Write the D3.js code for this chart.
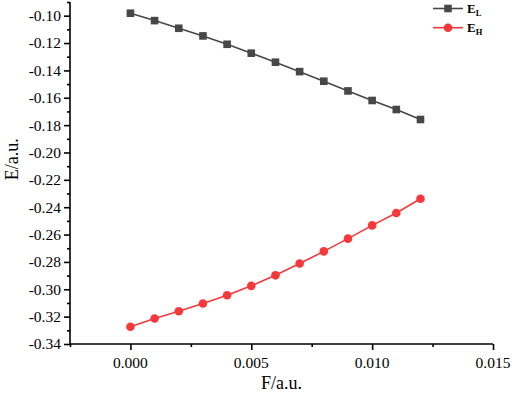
<!DOCTYPE html>
<html>
<head>
<meta charset="utf-8">
<script src="https://cdn.jsdelivr.net/npm/d3@7"></script>
<style>
  body { margin: 0; background: #fff; }
  svg { display: block; font-family: "Liberation Serif", "Times New Roman", serif; }
</style>
</head>
<body>
<div id="chart"></div>
<script>
// ---- Data ----
const fieldValues = [0, 0.001, 0.002, 0.003, 0.004, 0.005, 0.006, 0.007, 0.008, 0.009, 0.010, 0.011, 0.012];
const eL = [-0.0982, -0.1036, -0.1092, -0.1148, -0.1209, -0.1274, -0.1340, -0.1409, -0.1479, -0.1550, -0.1620, -0.1686, -0.1759];
const eH = [-0.3274, -0.3214, -0.3161, -0.3104, -0.3044, -0.2975, -0.2898, -0.2812, -0.2723, -0.2630, -0.2533, -0.2442, -0.2338];
const xTicks = [0, 0.005, 0.010, 0.015];
const yTicks = [-0.10, -0.12, -0.14, -0.16, -0.18, -0.20, -0.22, -0.24, -0.26, -0.28, -0.30, -0.32, -0.34];

const W = 512, H = 398;
const GRAY = "#474747", RED = "#f5383c";

const svg = d3.select("#chart").append("svg")
  .attr("width", W).attr("height", H);

// ---- Scales ----
const x = d3.scaleLinear().domain([-0.0025, 0.015]).range([70, 493]);
const y = d3.scaleLinear().domain([-0.34, -0.09]).range([344, 2]);

// ---- Axes ----
const xAxis = svg.append("g").attr("transform", `translate(0,${y(-0.34)})`);
xAxis.call(d3.axisBottom(x).tickValues(d3.range(-0.0025, 0.0151, 0.0025)).tickSize(3).tickFormat(""));
xAxis.call(g => g.selectAll(".tick").filter(d => xTicks.some(t => Math.abs(t - d) < 1e-9))
  .select("line").attr("y2", 6));
xAxis.call(g => g.select(".domain").attr("d", `M${x(-0.0025)},0H${x(0.015)}`));

const xLab = svg.append("g").attr("transform", `translate(0,${y(-0.34)})`);
xLab.selectAll("text").data(xTicks).join("text")
  .attr("x", d => x(d)).attr("y", 24)
  .attr("text-anchor", "middle")
  .style("font-size", "15.5px")
  .text(d => d3.format(".3f")(d));

const yAxis = svg.append("g").attr("transform", `translate(${x(-0.0025)},0)`);
yAxis.call(d3.axisLeft(y).tickValues(d3.range(-0.34, -0.0899, 0.01)).tickSize(3).tickFormat(""));
yAxis.call(g => g.selectAll(".tick").filter(d => yTicks.some(t => Math.abs(t - d) < 1e-9))
  .select("line").attr("x2", -6));
yAxis.call(g => g.select(".domain").attr("d", `M0,${y(-0.09)}V${y(-0.34)}`));

svg.selectAll(".domain, .tick line").attr("stroke", "#000").attr("stroke-width", 1.6);

svg.append("g").selectAll("text").data(yTicks).join("text")
  .attr("x", 61).attr("y", d => y(d)).attr("dy", "0.35em")
  .attr("text-anchor", "end")
  .style("font-size", "15.5px")
  .text(d => d3.format(".2f")(d).replace("−", "-"));

// ---- Axis titles ----
svg.append("text")
  .attr("x", x(0.00625)).attr("y", 389)
  .attr("text-anchor", "middle")
  .style("font-size", "18px")
  .text("F/a.u.");

svg.append("text")
  .attr("transform", `translate(18,${y(-0.205)}) rotate(-90)`)
  .attr("text-anchor", "middle")
  .style("font-size", "18px")
  .text("E/a.u.");

// ---- Series ----
const series = [
  { name: "L", values: eL, color: GRAY, shape: "square" },
  { name: "H", values: eH, color: RED, shape: "circle" }
];

const line = d3.line().x((d, i) => x(fieldValues[i])).y(d => y(d));

series.forEach(s => {
  svg.append("path")
    .datum(s.values)
    .attr("d", line)
    .attr("fill", "none")
    .attr("stroke", s.color)
    .attr("stroke-width", 1.6);

  if (s.shape === "square") {
    svg.append("g").selectAll("rect").data(s.values).join("rect")
      .attr("x", (d, i) => x(fieldValues[i]) - 3.8)
      .attr("y", d => y(d) - 3.8)
      .attr("width", 7.6).attr("height", 7.6)
      .attr("fill", s.color);
  } else {
    svg.append("g").selectAll("circle").data(s.values).join("circle")
      .attr("cx", (d, i) => x(fieldValues[i]))
      .attr("cy", d => y(d))
      .attr("r", 4.3)
      .attr("fill", s.color);
  }
});

// ---- Legend ----
const legend = svg.append("g");
series.forEach((s, i) => {
  const ly = 8.5 + i * 19.2;
  legend.append("line")
    .attr("x1", 433).attr("x2", 463).attr("y1", ly).attr("y2", ly)
    .attr("stroke", s.color).attr("stroke-width", 1.6);
  if (s.shape === "square") {
    legend.append("rect").attr("x", 448 - 3.8).attr("y", ly - 3.8)
      .attr("width", 7.6).attr("height", 7.6).attr("fill", s.color);
  } else {
    legend.append("circle").attr("cx", 448).attr("cy", ly).attr("r", 4.3).attr("fill", s.color);
  }
  const t = legend.append("text")
    .attr("x", 467).attr("y", ly + 4.5)
    .style("font-size", "13px").style("font-weight", "bold");
  t.append("tspan").text("E");
  t.append("tspan").attr("dy", 3).style("font-size", "8.5px").text(s.name);
});
</script>
</body>
</html>
